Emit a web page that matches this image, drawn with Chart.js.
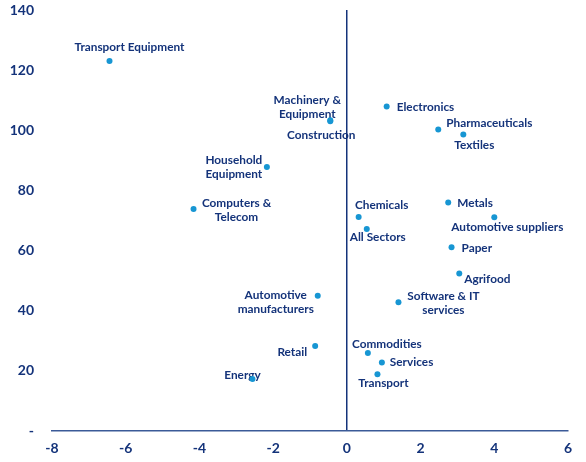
<!DOCTYPE html>
<html>
<head>
<meta charset="utf-8">
<script src="https://cdn.jsdelivr.net/npm/chart.js@4/dist/chart.umd.min.js"></script>
<style>
  html, body { margin: 0; padding: 0; background: #fff; }
  #wrap { width: 586px; height: 462px; }
</style>
</head>
<body>
<div id="wrap"><canvas id="sectorChart"></canvas></div>
<script>
// Sector data
const sectors = [
    'Transport Equipment', ['Machinery &', 'Equipment'], 'Construction', 'Electronics',
    'Pharmaceuticals', 'Textiles', ['Household', 'Equipment'], ['Computers &', 'Telecom'],
    'Chemicals', 'All Sectors', 'Metals', 'Automotive suppliers', 'Paper', 'Agrifood',
    ['Software & IT', 'services'], ['Automotive', 'manufacturers'], 'Retail', 'Commodities',
    'Services', 'Transport', 'Energy'
];
const xValues = [-6.44, -0.45, -0.45, 1.08, 2.48, 3.16, -2.17, -4.16, 0.32, 0.54, 2.75, 4.0,
    2.84, 3.05, 1.40, -0.79, -0.86, 0.57, 0.95, 0.83, -2.56];
const yValues = [123, 103.3, 103.0, 107.9, 100.3, 98.6, 87.8, 73.8, 71.2, 67.2, 76, 71.1,
    61.1, 52.4, 42.8, 45, 28.3, 25.9, 22.8, 18.9, 17.3];
const xTicks = [-8, -6, -4, -2, 0, 2, 4, 6];
const yTicks = [0, 20, 40, 60, 80, 100, 120, 140];

// Label placement relative to each dot: [dx, dy, align]
const labelPlacement = [
    [20, -15, 'center'], [-23, -21, 'center'], [-9, 13, 'center'], [10, 0, 'left'],
    [8, -7, 'left'], [11, 10, 'center'], [-33, -8, 'center'], [43, -7, 'center'],
    [23, -13, 'center'], [11, 7, 'center'], [9, 0, 'left'], [13, 9, 'center'],
    [10, 0, 'left'], [5, 5, 'left'], [45, -7, 'center'], [-42, -1, 'center'],
    [-8, 5, 'right'], [19, -10, 'center'], [8, -1, 'left'], [6, 8, 'center'], [-10, -5, 'center']
];

const navy = '#14337a';
const dotBlue = '#1796d3';

const pointLabels = {
    id: 'pointLabels',
    beforeDatasetsDraw(chart) {
        const ctx = chart.ctx;
        const meta = chart.getDatasetMeta(0);
        ctx.save();
        ctx.font = 'bold 11.8px Lato';
        ctx.fillStyle = navy;
        ctx.textBaseline = 'middle';
        meta.data.forEach((pt, i) => {
            const [dx, dy, align] = labelPlacement[i];
            const lines = Array.isArray(sectors[i]) ? sectors[i] : [sectors[i]];
            ctx.textAlign = align;
            lines.forEach((line, j) => {
                // +1: Lato sits a touch high with a middle baseline
                ctx.fillText(line, pt.x + dx, pt.y + dy + 1 + j * 14);
            });
        });
        ctx.restore();
    }
};

new Chart(document.getElementById('sectorChart'), {
    type: 'scatter',
    data: {
        datasets: [{
            data: xValues.map((x, i) => ({ x: x, y: yValues[i] })),
            backgroundColor: dotBlue,
            borderWidth: 0,
            pointRadius: 3,
            pointHoverRadius: 3
        }]
    },
    options: {
        responsive: true,
        maintainAspectRatio: false,
        animation: false,
        layout: { padding: { top: 10, right: 18, left: 0, bottom: 0 } },
        plugins: { legend: { display: false }, tooltip: { enabled: false } },
        scales: {
            x: {
                min: -8, max: 6,
                afterBuildTicks: (scale) => { scale.ticks = xTicks.map(v => ({ value: v })); },
                afterFit: (scale) => { scale.height = 31; },
                border: { display: true, color: '#3b5a98', width: 1.5 },
                grid: {
                    drawTicks: false,
                    color: (c) => (c.tick && c.tick.value === 0) ? navy : 'rgba(0,0,0,0)',
                    lineWidth: 1.5
                },
                ticks: { color: navy, font: { family: 'Lato', size: 14, weight: 'bold' }, padding: 9 }
            },
            y: {
                min: 0, max: 140,
                afterBuildTicks: (scale) => { scale.ticks = yTicks.map(v => ({ value: v })); },
                afterFit: (scale) => { scale.width = 52; },
                border: { display: false },
                // hidden tick marks only to push the labels away from the plot
                grid: { display: false, drawTicks: true, tickLength: 18 },
                ticks: {
                    color: navy,
                    font: { family: 'Lato', size: 14, weight: 'bold' },
                    padding: 0,
                    callback: (v) => v === 0 ? '-' : v
                }
            }
        }
    },
    plugins: [pointLabels]
});
</script>
</body>
</html>
